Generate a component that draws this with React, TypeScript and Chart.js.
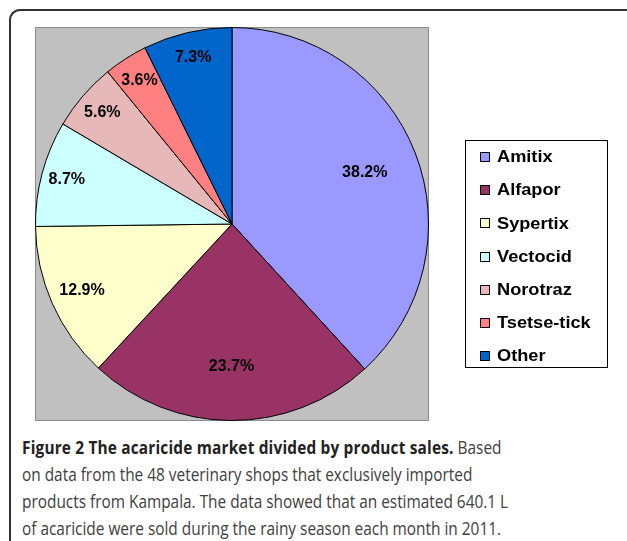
import React, { useEffect, useRef } from "react";
import { Chart, registerables } from "chart.js";

Chart.register(...registerables);

const categories = ["Amitix", "Alfapor", "Sypertix", "Vectocid", "Norotraz", "Tsetse-tick", "Other"];
const shares = [38.2, 23.7, 12.9, 8.7, 5.6, 3.6, 7.3];
const sliceColors = ["#9999FF", "#993366", "#FFFFCC", "#CCFFFF", "#E6B9B8", "#FF8080", "#0066CC"];

const captionBold = "Figure 2 The acaricide market divided by product sales.";
const captionLines = [
  " Based",
  "on data from the 48 veterinary shops that exclusively imported",
  "products from Kampala. The data showed that an estimated 640.1 L",
  "of acaricide were sold during the rainy season each month in 2011.",
];

const plotBackground = {
  id: "plotBackground",
  beforeDraw(chart: any) {
    const { ctx, chartArea } = chart;
    ctx.save();
    ctx.fillStyle = "#C0C0C0";
    ctx.fillRect(chartArea.left, chartArea.top, chartArea.right - chartArea.left, chartArea.bottom - chartArea.top);
    ctx.strokeStyle = "#8c8c8c";
    ctx.lineWidth = 1;
    ctx.strokeRect(chartArea.left + 0.5, chartArea.top + 0.5, chartArea.right - chartArea.left - 1, chartArea.bottom - chartArea.top - 1);
    ctx.restore();
  },
};

const sliceLabels = {
  id: "sliceLabels",
  afterDatasetsDraw(chart: any) {
    const { ctx } = chart;
    const meta = chart.getDatasetMeta(0);
    const data = chart.data.datasets[0].data as number[];
    ctx.save();
    ctx.font = "bold 16px 'Liberation Sans', Arial, sans-serif";
    ctx.fillStyle = "#000";
    ctx.textAlign = "center";
    ctx.textBaseline = "middle";
    meta.data.forEach((arc: any, i: number) => {
      const p = arc.getProps(["x", "y", "startAngle", "endAngle", "outerRadius"], true);
      const mid = (p.startAngle + p.endAngle) / 2;
      const v = data[i];
      const f = v >= 20 ? 0.725 : v > 10 ? 0.835 : 0.87;
      const x = p.x + Math.cos(mid) * p.outerRadius * f;
      const y = p.y + Math.sin(mid) * p.outerRadius * f;
      ctx.fillText(v.toFixed(1) + "%", x, y);
    });
    ctx.restore();
  },
};

const boxLegend = {
  id: "boxLegend",
  afterDraw(chart: any) {
    const { ctx } = chart;
    const labels = chart.data.labels as string[];
    const colors = chart.data.datasets[0].backgroundColor as string[];
    const left = 465.5, top = 140.5, w = 142, h = 227;
    ctx.save();
    ctx.fillStyle = "#fff";
    ctx.fillRect(left, top, w, h);
    ctx.strokeStyle = "#000";
    ctx.lineWidth = 1;
    ctx.strokeRect(left, top, w, h);
    ctx.font = "bold 17px 'Liberation Sans', Arial, sans-serif";
    ctx.textBaseline = "middle";
    ctx.textAlign = "left";
    labels.forEach((lab, i) => {
      const cy = 157 + i * 33.2;
      ctx.fillStyle = colors[i];
      ctx.fillRect(480.5, Math.round(cy) - 4.5, 9, 9);
      ctx.strokeStyle = "#000";
      ctx.strokeRect(480.5, Math.round(cy) - 4.5, 9, 9);
      ctx.save();
      ctx.translate(497, cy + 0.5);
      ctx.scale(1.07, 1);
      ctx.fillStyle = "#000";
      ctx.fillText(lab, 0, 0);
      ctx.restore();
    });
    ctx.restore();
  },
};

export default function App() {
  const canvasRef = useRef<HTMLCanvasElement | null>(null);

  useEffect(() => {
    if (!canvasRef.current) return;
    const chart = new Chart(canvasRef.current, {
      type: "pie",
      data: {
        labels: categories,
        datasets: [
          {
            data: shares,
            backgroundColor: sliceColors,
            borderColor: "#000",
            borderWidth: 1,
          },
        ],
      },
      options: {
        animation: false,
        responsive: false,
        maintainAspectRatio: false,
        layout: { padding: { left: 35, top: 27, right: 198, bottom: 9 } },
        plugins: {
          legend: { display: false },
          tooltip: { enabled: false },
        },
      },
      plugins: [plotBackground, sliceLabels, boxLegend],
    });
    return () => chart.destroy();
  }, []);

  const lineStyle: React.CSSProperties = {
    position: "absolute",
    left: 22,
    whiteSpace: "nowrap",
    transform: "scaleX(0.855)",
    transformOrigin: "left center",
    fontFamily: "'Open Sans', sans-serif",
    fontSize: 18,
    lineHeight: "20px",
    color: "#404040",
  };

  return (
    <div style={{ position: "fixed", left: 0, top: 0, width: 627, height: 541, background: "#fff", overflow: "hidden" }}>
      <div
        style={{
          position: "absolute",
          left: 9,
          top: 9,
          width: 640,
          height: 560,
          borderLeft: "2px solid #333",
          borderTop: "2px solid #333",
          borderTopLeftRadius: 11,
          boxSizing: "border-box",
        }}
      />
      <canvas ref={canvasRef} width={627} height={430} style={{ position: "absolute", left: 0, top: 0, width: 627, height: 430 }} />
      <div style={{ ...lineStyle, top: 437 }}>
        <span style={{ fontWeight: 700, color: "#222", letterSpacing: "0.21px" }}>{captionBold}</span>
        {captionLines[0]}
      </div>
      <div style={{ ...lineStyle, top: 464 }}>{captionLines[1]}</div>
      <div style={{ ...lineStyle, top: 491 }}>{captionLines[2]}</div>
      <div style={{ ...lineStyle, top: 518 }}>{captionLines[3]}</div>
    </div>
  );
}
